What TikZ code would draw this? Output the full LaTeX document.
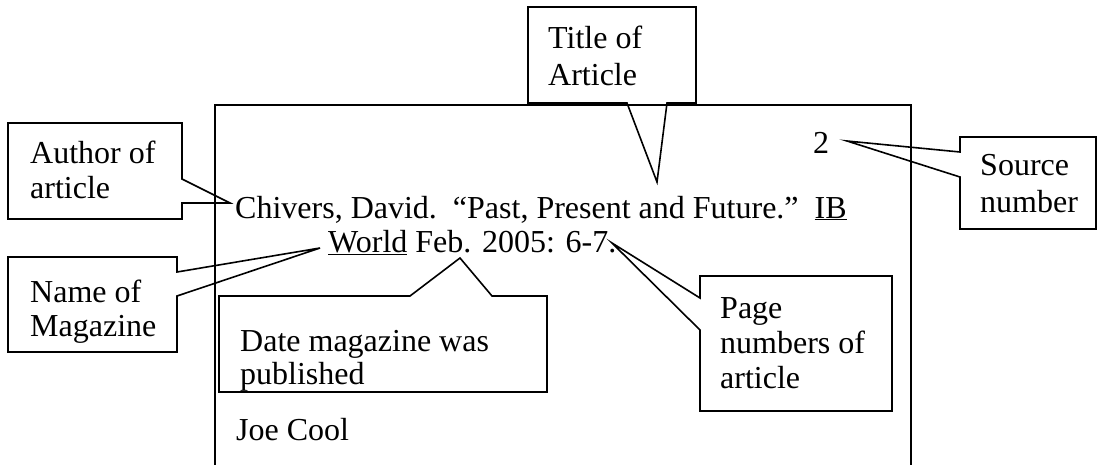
\documentclass[tikz,border=0pt]{standalone}
\usepackage{fontspec}
\setmainfont{Liberation Serif}
\begin{document}
\begin{tikzpicture}[x=1pt,y=-1pt,
  frame/.style={draw=black,line width=1.6pt,line join=miter},
  callout/.style={draw=black,line width=1.6pt,line join=miter},
  txt/.style={anchor=base west,inner sep=0pt,font=\fontsize{32}{38}\selectfont}]
\useasboundingbox (0,0) rectangle (1099,464);
% card
\draw[frame] (215,466) -- (215,105) -- (911,105) -- (911,466);
% card text
\node[txt] (num) at (813,153) {2};
\node[txt] (cit1) at (235,218) {Chivers, David.\ \ “Past, Present and Future.”\ \ \underline{IB}};
\node[txt] (cit2) at (328,252) {\underline{World} Feb. 2005: 6-7.};
\node[txt] (name) at (236,440) {Joe Cool};
% tips
\coordinate (tAuthor) at (230,203);
\coordinate (tTitle) at (657,182);
\coordinate (tSource) at (847,141);
\coordinate (tName) at (320,248);
\coordinate (tDate) at (460,258);
\coordinate (tPage) at (612,243);
% callouts
\draw[callout] (8,123) -- (182,123) -- (182,179) -- (tAuthor) -- (182,203) -- (182,219) -- (8,219) -- cycle;
\draw[callout] (528,7) -- (696,7) -- (696,103) -- (667,103) -- (tTitle) -- (627,103) -- (528,103) -- cycle;
\draw[callout] (960,137) -- (1096,137) -- (1096,229) -- (960,229) -- (960,177) -- (tSource) -- (960,152) -- cycle;
\draw[callout] (8,257) -- (177,257) -- (177,272) -- (tName) -- (177,296) -- (177,352) -- (8,352) -- cycle;
\draw[callout] (219,296) -- (410,296) -- (tDate) -- (492,296) -- (547,296) -- (547,392) -- (219,392) -- cycle;
\draw[callout] (700,276) -- (892,276) -- (892,411) -- (700,411) -- (700,330) -- (tPage) -- (700,298) -- cycle;
% callout texts
\node[txt] (au1) at (30,163) {Author of};
\node[txt] (au2) at (30,198) {article};
\node[txt] (ti1) at (548,48) {Title of};
\node[txt] (ti2) at (548,85) {Article};
\node[txt] (so1) at (980,175) {Source};
\node[txt] (so2) at (980,212) {number};
\node[txt] (na1) at (30,302) {Name of};
\node[txt] (na2) at (30,336) {Magazine};
\node[txt] (da1) at (240,351) {Date magazine was};
\node[txt] (da2) at (240,384) {published};
\node[txt] (pa1) at (720,318) {Page};
\node[txt] (pa2) at (720,353) {numbers of};
\node[txt] (pa3) at (720,388) {article};
\end{tikzpicture}
\end{document}
